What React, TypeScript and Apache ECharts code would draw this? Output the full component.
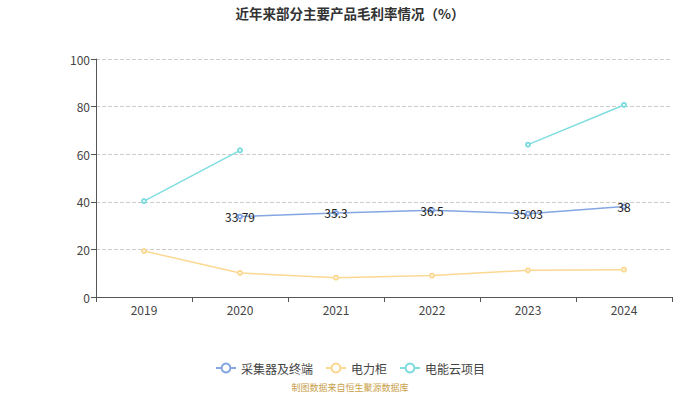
import React, { useEffect, useRef } from "react";
import * as echarts from "echarts";

const years = ["2019", "2020", "2021", "2022", "2023", "2024"];
const collector = [null, 33.79, 35.3, 36.5, 35.03, 38];
const powerCabinet = [19.3, 10.1, 8.1, 9.0, 11.2, 11.5];
const energyCloud = [40.3, 61.6, null, null, 64.0, 80.7];
const seriesNames = ["采集器及终端", "电力柜", "电能云项目"];

const FONT = "'Noto Sans CJK SC', 'Noto Sans', sans-serif";

export default function App() {
  const ref = useRef<HTMLDivElement>(null);
  useEffect(() => {
    const chart = echarts.init(ref.current!, null, { renderer: "svg" });
    chart.setOption({
      animation: false,
      textStyle: { fontFamily: FONT },
      title: {
        text: "近年来部分主要产品毛利率情况（%）",
        left: "center",
        top: 1,
        textStyle: { fontSize: 13.5, fontWeight: "bold", color: "#333", fontFamily: FONT },
      },
      graphic: [
        {
          type: "text",
          left: "center",
          top: 383,
          style: { text: "制图数据来自恒生聚源数据库", fill: "#c9a14a", fontSize: 9, fontFamily: FONT },
        },
      ],
      legend: {
        top: 357,
        itemWidth: 20,
        itemHeight: 11,
        itemGap: 12,
        textStyle: { fontSize: 12, color: "#444", fontFamily: FONT },
        data: seriesNames,
      },
      grid: { left: 96, right: 28, top: 59, bottom: 97 },
      xAxis: {
        type: "category",
        data: years,
        boundaryGap: true,
        axisLine: { lineStyle: { color: "#555" } },
        axisTick: { show: true, lineStyle: { color: "#555" } },
        axisLabel: { color: "#444", fontSize: 12, margin: 6 },
      },
      yAxis: {
        type: "value",
        min: 0,
        max: 100,
        interval: 20,
        axisLine: { show: true, lineStyle: { color: "#555" } },
        axisTick: { show: true, lineStyle: { color: "#555" } },
        axisLabel: { color: "#444", fontSize: 12, margin: 6 },
        splitLine: { lineStyle: { type: "dashed", color: "#ccc" } },
      },
      series: [
        {
          name: seriesNames[0],
          type: "line",
          data: collector,
          symbol: "emptyCircle",
          symbolSize: 4,
          itemStyle: { color: "#86a6e2" },
          lineStyle: { width: 1.5, color: "#86a6e2" },
          label: {
            show: true,
            position: "inside",
            color: "#222",
            fontSize: 12,
          },
        },
        {
          name: seriesNames[1],
          type: "line",
          data: powerCabinet,
          symbol: "emptyCircle",
          symbolSize: 4,
          itemStyle: { color: "#fdd892" },
          lineStyle: { width: 1.5, color: "#fdd892" },
        },
        {
          name: seriesNames[2],
          type: "line",
          data: energyCloud,
          symbol: "emptyCircle",
          symbolSize: 4,
          itemStyle: { color: "#7fdde0" },
          lineStyle: { width: 1.5, color: "#7fdde0" },
        },
      ],
    });
    return () => chart.dispose();
  }, []);
  return (
    <div
      ref={ref}
      style={{ position: "absolute", left: 0, top: 0, width: 700, height: 394 }}
    />
  );
}
